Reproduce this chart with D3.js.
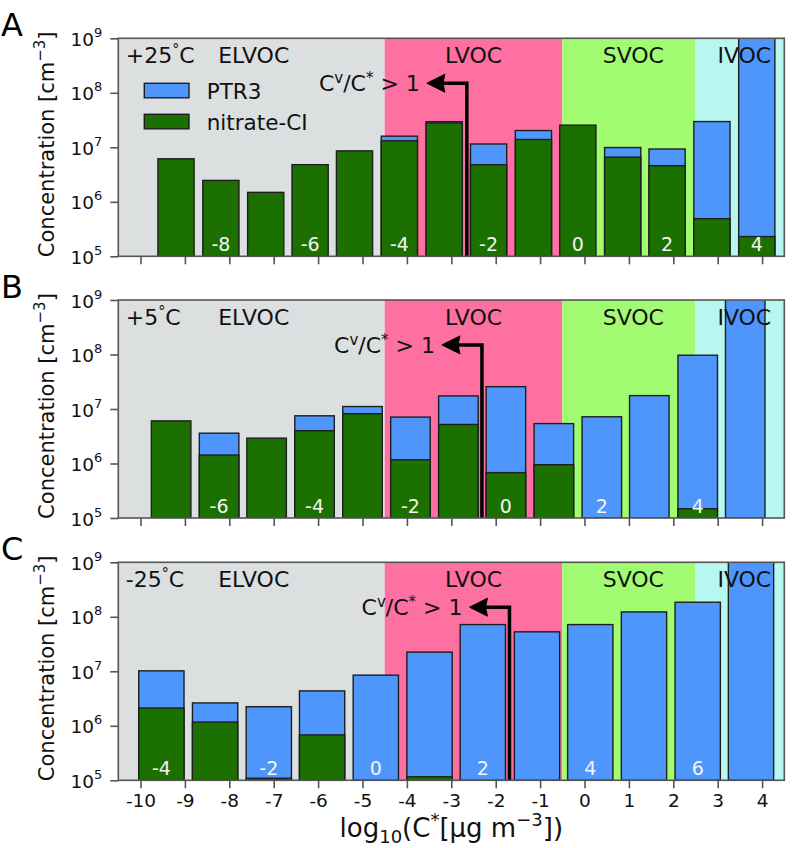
<!DOCTYPE html>
<html>
<head>
<meta charset="utf-8">
<script src="https://cdn.jsdelivr.net/npm/d3@7"></script>
<style>
  html, body { margin: 0; padding: 0; background: #fff; }
  svg text { font-family: "DejaVu Sans", sans-serif; }
</style>
</head>
<body>
<svg id="chart" width="793" height="848"></svg>
<script>
// ---------------- DATA ----------------
const panelLetters = ["A", "B", "C"];
const panelTemps = ["+25°C", "+5°C", "-25°C"];

// volatility bins at each temperature (white labels on even bins)
const binsA = [-9, -8, -7, -6, -5, -4, -3, -2, -1, 0, 1, 2, 3, 4];
const binsB = [-7, -6, -5, -4, -3, -2, -1, 0, 1, 2, 3, 4, 5];
const binsC = [-4, -3, -2, -1, 0, 1, 2, 3, 4, 5, 6, 7];

// bar centres on the log10(C*) axis
const centersA = [-9.20, -8.19, -7.18, -6.18, -5.18, -4.17, -3.16, -2.16, -1.15, -0.15, 0.86, 1.86, 2.87, 3.88];
const centersB = [-9.31, -8.23, -7.16, -6.08, -5.00, -3.92, -2.84, -1.77, -0.69, 0.39, 1.46, 2.55, 3.62];
const centersC = [-9.53, -8.32, -7.11, -5.91, -4.70, -3.49, -2.29, -1.07, 0.13, 1.34, 2.55, 3.75];

// bar widths (log10 units)
const barWidths = [0.815, 0.89, 1.02];

// PTR3 concentrations [cm^-3] (null = not shown)
const ptrA = [null, null, null, null, null, 1.60e7, 2.95e7, 1.15e7, 2.03e7, null, 9.9e6, 9.3e6, 2.97e7, 2e9];
const ptrB = [null, 3.6e6, null, 7.5e6, 1.11e7, 7.1e6, 1.74e7, 2.57e7, 5.4e6, 7.2e6, 1.76e7, 9.7e7, 2e9];
const ptrC = [1.02e7, 2.63e6, 2.24e6, 4.37e6, 8.5e6, 2.25e7, 7.2e7, 5.3e7, 7.2e7, 1.23e8, 1.85e8, 2e9];

// nitrate-CI concentrations [cm^-3]
const nitA = [6.15e6, 2.47e6, 1.49e6, 4.8e6, 8.6e6, 1.32e7, 2.8e7, 4.8e6, 1.39e7, 2.55e7, 6.6e6, 4.6e6, 4.9e5, 2.3e5];
const nitB = [6.05e6, 1.43e6, 2.92e6, 4.0e6, 8.2e6, 1.17e6, 5.2e6, 6.8e5, 9.5e5, null, null, 1.48e5, null];
const nitC = [2.12e6, 1.17e6, 1.09e5, 6.8e5, null, 1.16e5, null, null, null, null, null, null];

// volatility classes
const classNames = ["ELVOC", "LVOC", "SVOC", "IVOC"];
const classFrom = [-10.5, -4.5, -0.5, 2.5];
const classTo = [-4.5, -0.5, 2.5, 4.5];
const classLabelX = [-7.45, -2.5, 1.1, 3.6];

// saturation arrow (C^v/C^* > 1)
const arrowX = [-2.65, -2.31, -1.69];
const arrowY = 1.5e8;
const arrowLen = 0.9;

// axes
const xDomain = [-10.5, 4.5];
const yDomain = [1e5, 1e9];
const xTicks = [-10, -9, -8, -7, -6, -5, -4, -3, -2, -1, 0, 1, 2, 3, 4];
const yTicks = [1e5, 1e6, 1e7, 1e8, 1e9];
const legendLabels = ["PTR3", "nitrate-CI"];

// ---------------- STYLE ----------------
const classColors = ["#dcdfe0", "#fe6fa2", "#a2fc72", "#b8f7ef"];
const ptrColor = "#4e96fc";
const nitColor = "#1b7000";
const edgeColor = "#1e1e1e";
const axisColor = "#555";

const panels = [
  { bins: binsA, centers: centersA, ptr: ptrA, nit: nitA },
  { bins: binsB, centers: centersB, ptr: ptrB, nit: nitB },
  { bins: binsC, centers: centersC, ptr: ptrC, nit: nitC }
];

const left = 118.3, right = 784.3;
const panelTops = [38.3, 300, 562.3];
const panelH = 218;

const svg = d3.select("#chart");
const x = d3.scaleLinear().domain(xDomain).range([left, right]);

panels.forEach((p, pi) => {
  const top = panelTops[pi], bottom = top + panelH;
  const y = d3.scaleLog().domain(yDomain).range([bottom, top]);
  const g = svg.append("g");

  const clipId = "clip" + pi;
  svg.append("clipPath").attr("id", clipId)
    .append("rect").attr("x", left).attr("y", top).attr("width", right - left).attr("height", panelH);

  const plot = g.append("g").attr("clip-path", `url(#${clipId})`);

  // class backgrounds
  plot.selectAll("rect.cls").data(classNames).enter().append("rect")
    .attr("x", (d, i) => x(classFrom[i]))
    .attr("width", (d, i) => x(classTo[i]) - x(classFrom[i]))
    .attr("y", top).attr("height", panelH)
    .attr("fill", (d, i) => classColors[i]);

  const w = barWidths[pi];
  // PTR3 bars
  plot.selectAll("rect.ptr").data(p.centers.map((c, i) => ({ c, v: p.ptr[i] })).filter(d => d.v != null))
    .enter().append("rect")
    .attr("x", d => x(d.c - w / 2))
    .attr("width", d => x(d.c + w / 2) - x(d.c - w / 2))
    .attr("y", d => y(d.v))
    .attr("height", d => bottom - y(d.v))
    .attr("fill", ptrColor).attr("stroke", edgeColor).attr("stroke-width", 1.4);
  // nitrate bars
  plot.selectAll("rect.nit").data(p.centers.map((c, i) => ({ c, v: p.nit[i] })).filter(d => d.v != null))
    .enter().append("rect")
    .attr("x", d => x(d.c - w / 2))
    .attr("width", d => x(d.c + w / 2) - x(d.c - w / 2))
    .attr("y", d => y(d.v))
    .attr("height", d => bottom - y(d.v))
    .attr("fill", nitColor).attr("stroke", edgeColor).attr("stroke-width", 1.4);

  // bin labels
  plot.selectAll("text.bin").data(p.centers.map((c, i) => ({ c, b: p.bins[i] })).filter(d => d.b % 2 === 0))
    .enter().append("text")
    .attr("x", d => x(d.c)).attr("y", bottom - 5)
    .attr("text-anchor", "middle").attr("font-size", 19).attr("fill", "#f4f4f4")
    .text(d => String(d.b));

  // class labels
  plot.selectAll("text.cls").data(classNames).enter().append("text")
    .attr("x", (d, i) => x(classLabelX[i])).attr("y", top + 25)
    .attr("text-anchor", "middle").attr("font-size", 22).attr("fill", "#111")
    .text(d => d);

  // temperature label
  const tt = g.append("text").attr("x", left + 7.5).attr("y", top + 25)
    .attr("font-size", 22).attr("fill", "#111");
  const tempStr = panelTemps[pi];
  tt.append("tspan").text(tempStr.replace("°C", ""));
  tt.append("tspan").attr("font-size", 14).attr("dy", -9).text("°");
  tt.append("tspan").attr("dy", 9).text("C");

  // arrow
  const ax = x(arrowX[pi]), ay = y(arrowY), tip = x(arrowX[pi] - arrowLen);
  g.append("path")
    .attr("d", `M${ax},${bottom} L${ax},${ay} L${tip + 14},${ay}`)
    .attr("fill", "none").attr("stroke", "#000").attr("stroke-width", 3.5);
  g.append("path")
    .attr("d", `M${tip},${ay} L${tip + 18},${ay - 9} L${tip + 16},${ay} L${tip + 18},${ay + 9} Z`)
    .attr("fill", "#000").attr("stroke", "#000").attr("stroke-width", 1).attr("stroke-linejoin", "round");
  const at = g.append("text").attr("x", tip - 7).attr("y", ay + 8)
    .attr("text-anchor", "end").attr("font-size", 22).attr("fill", "#111");
  at.append("tspan").text("C");
  at.append("tspan").attr("font-size", 15).attr("dy", -8).text("v");
  at.append("tspan").attr("dy", 8).text("/C");
  at.append("tspan").attr("font-size", 15).attr("dy", -8).text("*");
  at.append("tspan").attr("dy", 8).text(" > 1");

  // frame
  g.append("rect").attr("x", left).attr("y", top).attr("width", right - left).attr("height", panelH)
    .attr("fill", "none").attr("stroke", axisColor).attr("stroke-width", 1.6);

  // x axis
  const xAxis = d3.axisBottom(x).tickValues(xTicks).tickSize(8).tickPadding(6)
    .tickFormat(pi === 2 ? (d => String(d)) : (() => ""));
  const xg = g.append("g").attr("transform", `translate(0,${bottom})`).call(xAxis);
  xg.select(".domain").remove();
  xg.selectAll(".tick line").attr("stroke", axisColor).attr("stroke-width", 1.6);
  xg.selectAll(".tick text").attr("font-size", 18.5).attr("fill", "#111")
    .attr("font-family", "DejaVu Sans, sans-serif");

  // y axis
  const yAxis = d3.axisLeft(y).tickValues(yTicks).tickSize(8).tickFormat(() => "");
  const yg = g.append("g").attr("transform", `translate(${left},0)`).call(yAxis);
  yg.select(".domain").remove();
  yg.selectAll(".tick line").attr("stroke", axisColor).attr("stroke-width", 1.6);
  yg.selectAll(".tick").each(function (d) {
    const t = d3.select(this).append("text").attr("x", -16).attr("y", 7)
      .attr("text-anchor", "end").attr("font-size", 18.5).attr("fill", "#111");
    t.append("tspan").text("10");
    t.append("tspan").attr("font-size", 13).attr("dy", -9).text(String(Math.round(Math.log10(d))));
  });

  // y label
  const yl = g.append("text")
    .attr("transform", `translate(54,${top + panelH / 2 - 3}) rotate(-90)`)
    .attr("text-anchor", "middle").attr("font-size", 21).attr("fill", "#111");
  yl.append("tspan").text("Concentration [cm");
  yl.append("tspan").attr("font-size", 15).attr("dy", -9).text("−3");
  yl.append("tspan").attr("dy", 9).text("]");

  // panel letter
  g.append("text").attr("x", 1).attr("y", top - 2).attr("font-size", 32).attr("fill", "#000")
    .text(panelLetters[pi]);

  // legend (panel A)
  if (pi === 0) {
    const legColors = [ptrColor, nitColor];
    legendLabels.forEach((lab, i) => {
      const ly = top + 45 + i * 31;
      g.append("rect").attr("x", 144.3).attr("y", ly).attr("width", 44.7).attr("height", 14.5)
        .attr("fill", legColors[i]).attr("stroke", edgeColor).attr("stroke-width", 1.4);
      g.append("text").attr("x", 206.7).attr("y", ly + 15.5).attr("font-size", 21.5).attr("fill", "#111").text(lab);
    });
  }
});

// x label
const xl = svg.append("text").attr("x", (left + right) / 2).attr("y", 837)
  .attr("text-anchor", "middle").attr("font-size", 26).attr("fill", "#111");
xl.append("tspan").text("log");
xl.append("tspan").attr("font-size", 18).attr("dy", 6).text("10");
xl.append("tspan").attr("dy", -6).text("(C");
xl.append("tspan").attr("font-size", 18).attr("dy", -11).text("*");
xl.append("tspan").attr("dy", 11).text("[μg m");
xl.append("tspan").attr("font-size", 18).attr("dy", -11).text("−3");
xl.append("tspan").attr("dy", 11).text("])");
</script>
</body>
</html>
